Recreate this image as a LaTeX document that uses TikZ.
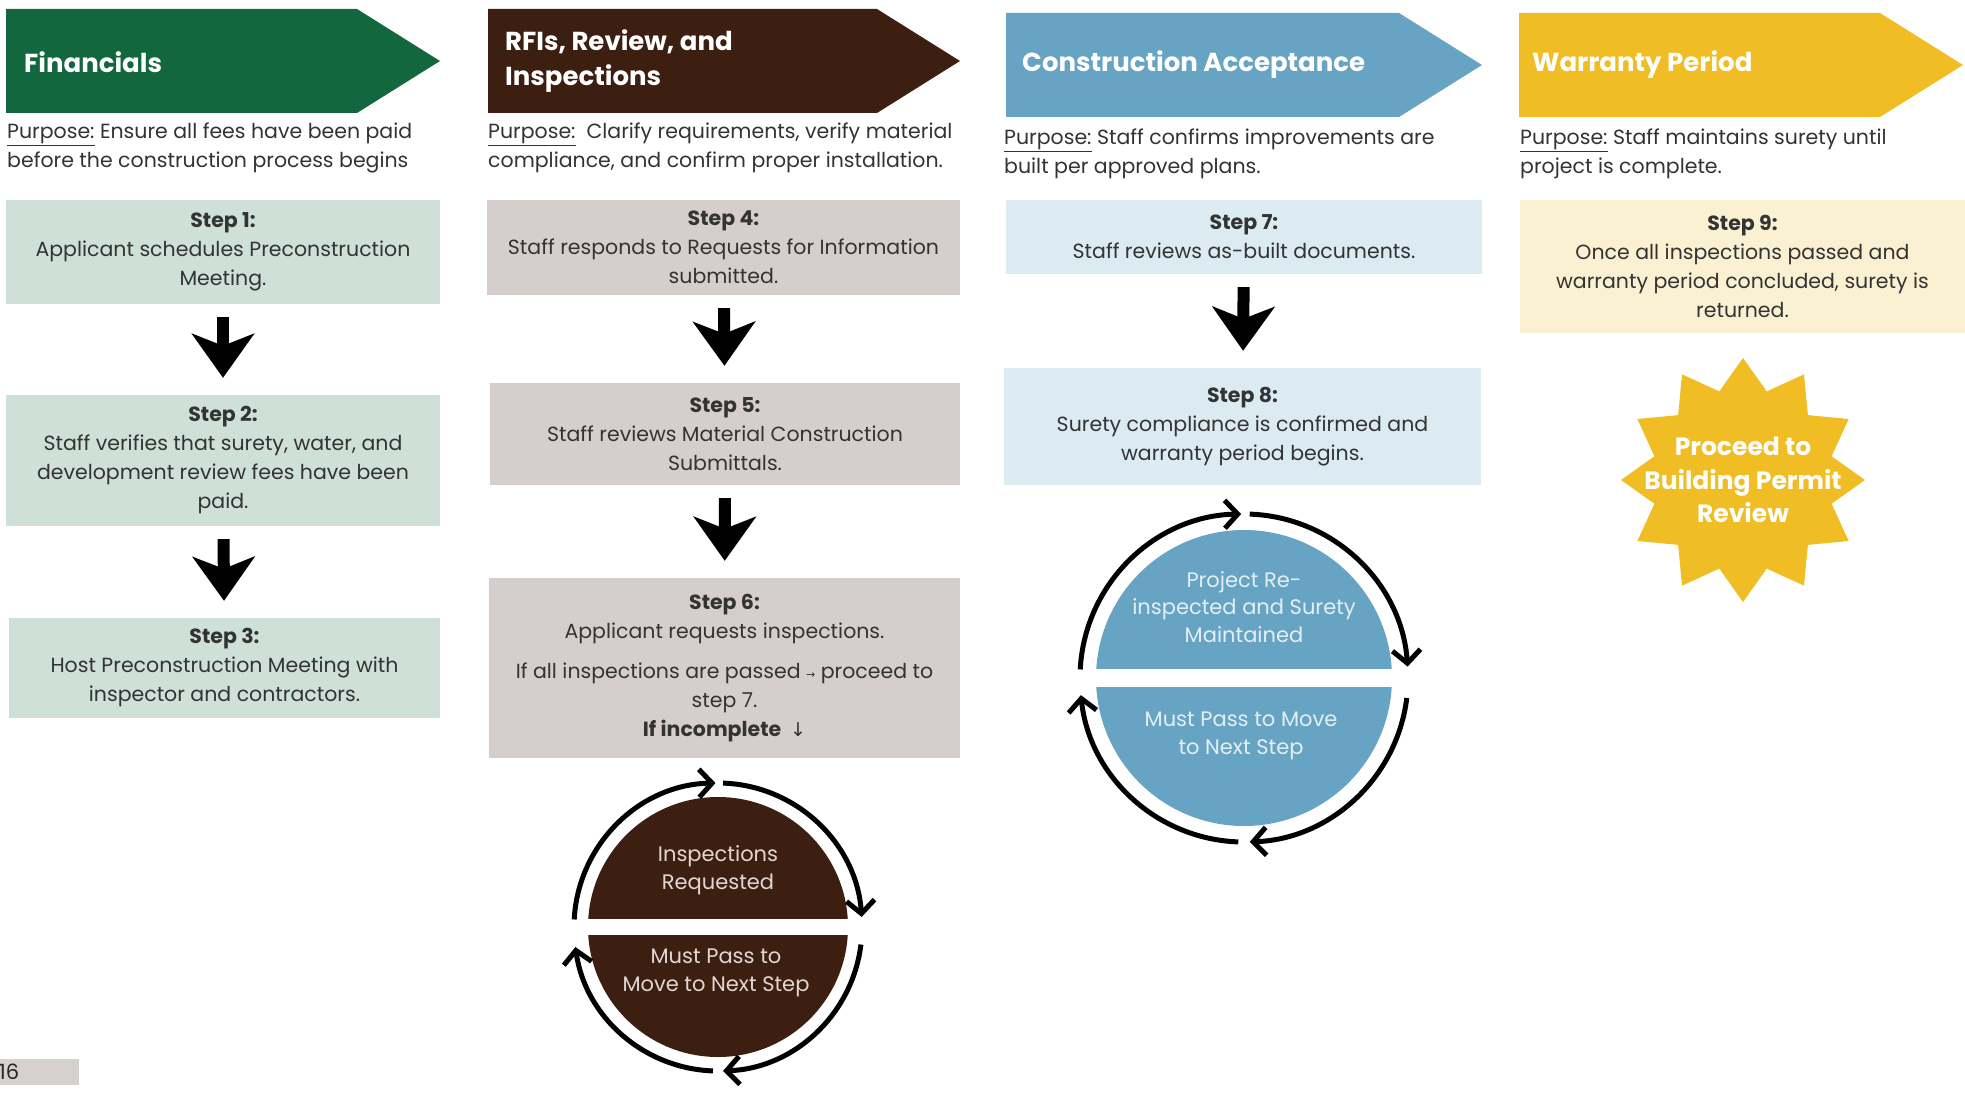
\documentclass[tikz,border=0pt]{standalone}
\usepackage{fontspec}
\setmainfont{Poppins}
\newfontfamily\symfont{DejaVu Sans}
\usetikzlibrary{arrows.meta,shapes.geometric}

\definecolor{finGreen}{HTML}{12673F}
\definecolor{rfiBrown}{HTML}{3D1F12}
\definecolor{accBlue}{HTML}{67A3C2}
\definecolor{warYellow}{HTML}{F0BD24}
\definecolor{finBox}{HTML}{CFE0D8}
\definecolor{rfiBox}{HTML}{D6CECD}
\definecolor{accBox}{HTML}{DCEAF1}
\definecolor{warBox}{HTML}{FAF0D2}
\definecolor{txtGray}{HTML}{333333}
\definecolor{rfiText}{HTML}{E1D7D2}
\definecolor{accText}{HTML}{E3EFF5}
\definecolor{pageBox}{HTML}{D6D0CE}

\begin{document}
\begin{tikzpicture}[x=1pt, y=1pt,
  title/.style={anchor=west, inner sep=0pt, text=white, align=left,
                font=\fontsize{26}{35}\selectfont\bfseries},
  purpose/.style={anchor=west, inner sep=0pt, align=left, text=txtGray,
                  font=\fontsize{20.5}{29}\selectfont},
  stepbox/.style={rectangle, inner sep=0pt, align=center, text=txtGray,
                  font=\fontsize{20.5}{29}\selectfont},
  blockarr/.style={-{Stealth[length=44pt, width=62pt, inset=12pt]}, line width=12pt,
                   shorten <=13pt, shorten >=17pt},
  ring/.style={line width=5pt, -{Straight Barb[length=13pt, width=28pt]}},
  inside/.style={align=center, inner sep=0pt, font=\fontsize{21}{27.5}\selectfont}
]
  \useasboundingbox (0,0) rectangle (1965,-1094);

  \fill[finGreen]  (6,-9)    -- (357,-9)   -- (440,-61)  -- (357,-113)  -- (6,-113)    -- cycle;
  \fill[rfiBrown]  (488,-9)  -- (877,-9)   -- (960,-61)  -- (877,-113)  -- (488,-113)  -- cycle;
  \fill[accBlue]   (1006,-13) -- (1399,-13) -- (1482,-65) -- (1399,-117) -- (1006,-117) -- cycle;
  \fill[warYellow] (1519,-13) -- (1880,-13) -- (1963,-65) -- (1880,-117) -- (1519,-117) -- cycle;

  \node[title] (tFin) at (24,-62) {Financials};
  \node[title] (tRfi) at (505,-61) {RFIs, Review, and\\Inspections};
  \node[title] (tAcc) at (1022,-65) {Construction Acceptance};
  \node[title] (tWar) at (1532,-65) {Warranty Period};

  \node[purpose] (pFin) at (7,-148) {\underline{Purpose:} Ensure all fees have been paid\\before the construction process begins};
  \node[purpose] (pRfi) at (488,-148) {\underline{Purpose:}~ Clarify requirements, verify material\\compliance, and confirm proper installation.};
  \node[purpose] (pAcc) at (1004,-154) {\underline{Purpose:} Staff confirms improvements are\\built per approved plans.};
  \node[purpose] (pWar) at (1520,-154) {\underline{Purpose:} Staff maintains surety until\\project is complete.};

  \node[stepbox, fill=finBox, minimum width=434pt, minimum height=104pt] (s1) at (223,-252)
    {\textbf{Step 1:}\\Applicant schedules Preconstruction\\Meeting.};
  \node[stepbox, fill=finBox, minimum width=434pt, minimum height=131pt] (s2) at (223,-460.5)
    {\textbf{Step 2:}\\Staff verifies that surety, water, and\\development review fees have been\\paid.};
  \node[stepbox, fill=finBox, minimum width=431pt, minimum height=100pt] (s3) at (224.5,-668)
    {\textbf{Step 3:}\\Host Preconstruction Meeting with\\inspector and contractors.};

  \node[stepbox, fill=rfiBox, minimum width=473pt, minimum height=95pt] (s4) at (723.5,-247.5)
    {\textbf{Step 4:}\\Staff responds to Requests for Information\\submitted.};
  \node[stepbox, fill=rfiBox, minimum width=470pt, minimum height=102pt] (s5) at (725,-434)
    {\textbf{Step 5:}\\Staff reviews Material Construction\\Submittals.};
  \node[stepbox, fill=rfiBox, minimum width=471pt, minimum height=180pt] (s6) at (724.5,-668)
    {\textbf{Step 6:}\\Applicant requests inspections.\\[11pt]
     If all inspections are passed {\symfont\fontsize{11}{11}\selectfont →} proceed to\\step 7.\\
     \textbf{If incomplete}\, {\symfont\fontsize{19}{19}\selectfont ↓}};

  \node[stepbox, fill=accBox, minimum width=476pt, minimum height=74pt] (s7) at (1244,-237)
    {\textbf{Step 7:}\\Staff reviews as-built documents.};
  \node[stepbox, fill=accBox, minimum width=477pt, minimum height=117pt] (s8) at (1242.5,-426.5)
    {\textbf{Step 8:}\\Surety compliance is confirmed and\\warranty period begins.};

  \node[stepbox, fill=warBox, minimum width=445pt, minimum height=133pt] (s9) at (1742.5,-266.5)
    {\textbf{Step 9:}\\Once all inspections passed and\\warranty period concluded, surety is\\returned.};

  \draw[blockarr] (s1) -- (s2);
  \draw[blockarr] (s2) -- (s3);
  \draw[blockarr] (s4) -- (s5);
  \draw[blockarr] (s5) -- (s6);
  \draw[blockarr] (s7) -- (s8);

  \node[circle, fill=rfiBrown, minimum size=260pt, inner sep=0pt] (cyc2) at (718,-927) {};
  \fill[white] ([xshift=-140pt, yshift=8pt]cyc2.center) rectangle ([xshift=140pt, yshift=-8pt]cyc2.center);
  \node[inside, text=rfiText] (cyc2top) at (718,-870) {Inspections\\Requested};
  \node[inside, text=rfiText] (cyc2bot) at (716,-973) {Must Pass to\\Move to Next Step};
  \foreach \a/\b in {177/91, 88/4, -7/-88, -92/-172}
    \draw[ring] ([shift={(\a:144)}]cyc2.center) arc[start angle=\a, end angle=\b, radius=144];

  \node[circle, fill=accBlue, minimum size=296pt, inner sep=0pt] (cyc3) at (1244,-678) {};
  \fill[white] ([xshift=-160pt, yshift=9pt]cyc3.center) rectangle ([xshift=160pt, yshift=-9pt]cyc3.center);
  \node[inside, text=accText] (cyc3top) at (1244,-607) {Project Re-\\inspected and Surety\\Maintained};
  \node[inside, text=accText] (cyc3bot) at (1241,-736) {Must Pass to Move\\to Next Step};
  \foreach \a/\b in {177/91, 88/4, -7/-88, -92/-174}
    \draw[ring] ([shift={(\a:164)}]cyc3.center) arc[start angle=\a, end angle=\b, radius=164];

  \node[star, star points=12, star point ratio=1.33, minimum size=244pt, inner sep=0pt,
        fill=warYellow] (seal) at (1743,-480) {};
  \node[align=center, text=white, font=\fontsize{25}{33.5}\selectfont\bfseries] (sealText) at (seal) {Proceed to\\Building Permit\\Review};

  \fill[pageBox] (0,-1059) rectangle (79,-1085);
  \node[anchor=west, inner sep=0pt, text=black!85, font=\fontsize{21}{24}\selectfont] (pageNo) at (-1,-1072) {16};
\end{tikzpicture}
\end{document}
